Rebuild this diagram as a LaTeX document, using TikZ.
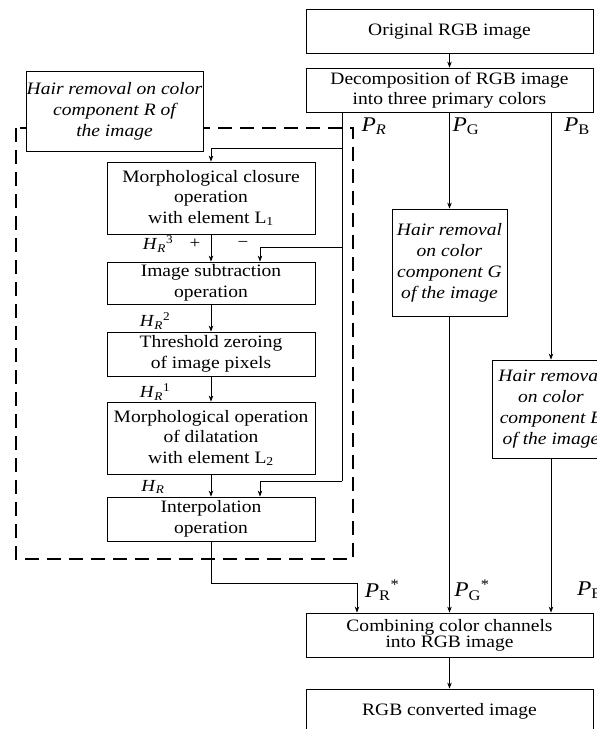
\documentclass[tikz,border=0pt]{standalone}
\usepackage{fontspec}
\setmainfont{Liberation Serif}[FakeStretch=1.12]
\usetikzlibrary{arrows.meta,calc}
\begin{document}
\begin{tikzpicture}[x=1bp,y=-1bp,
  box/.style={draw, line width=0.8bp, fill=white, align=center, inner sep=0pt,
    font=\fontsize{17.5}{20.5}\selectfont},
  ibox/.style={box, font=\fontsize{17.5}{21}\selectfont\itshape},
  arr/.style={-{Stealth[length=6bp,width=4.5bp]}, line width=0.8bp},
  ln/.style={line width=0.8bp},
  lbl/.style={inner sep=0pt, font=\fontsize{17}{20}\selectfont},
  plbl/.style={inner sep=0pt, font=\fontsize{21}{24}\selectfont},
  group/.style={draw, line width=1.5bp, dash pattern=on 14bp off 8bp}]
\useasboundingbox (0,0) rectangle (597,729);
\clip (0,0) rectangle (597,729);
\fill[white] (0,0) rectangle (597,729);

% dashed group frame
\draw[group] (16,128) rectangle (353,559);

% boxes
\node[box, minimum width=287bp, minimum height=44bp] (orig) at (449.5,31) {Original RGB image};
\node[box, minimum width=287bp, minimum height=44bp] (decomp) at (449.5,90) {Decomposition of RGB image\\into three primary colors};
\node[ibox, minimum width=177bp, minimum height=80bp] (hairR) at (114.5,111) {Hair removal on color\\component R of\\the image};
\node[box, minimum width=208bp, minimum height=72bp] (closure) at (211,198) {Morphological closure\\operation\\with element L\textsubscript{1}};
\node[box, minimum width=208bp, minimum height=42bp] (subtr) at (211,283) {Image subtraction\\operation};
\node[box, minimum width=208bp, minimum height=44bp] (thresh) at (211,354) {Threshold zeroing\\of image pixels};
\node[box, minimum width=208bp, minimum height=72bp] (dilat) at (211,438) {Morphological operation\\of dilatation\\with element L\textsubscript{2}};
\node[box, minimum width=208bp, minimum height=44bp] (interp) at (211,519) {Interpolation\\operation};
\node[ibox, minimum width=115bp, minimum height=107bp] (hairG) at (449.5,262.5) {Hair removal\\on color\\component G\\of the image};
\node[ibox, minimum width=118bp, minimum height=98bp] (hairB) at (551,409) {Hair removal\\on color\\component B\\of the image};
\node[box, minimum width=287bp, minimum height=44bp, font=\fontsize{17.5}{15}\selectfont] (combine) at (449.5,635) {Combining color channels\\into RGB image};
\node[box, minimum width=287bp, minimum height=44bp] (final) at (449.5,711) {RGB converted image};

% coordinates
\coordinate (pr) at (342,112);
\coordinate (prA) at (342,148);
\coordinate (prB) at (342,247);
\coordinate (prC) at (342,481);
\coordinate (pb) at (551,112);
\coordinate (outR) at (211,583);

% connectors
\draw[arr] (orig.south) -- (decomp.north);
\draw[ln] (pr) -- (prC);
\draw[arr] (prA) -| (closure.north);
\draw[arr] (prB) -| ([xshift=49bp]subtr.north);
\draw[arr] (prC) -| ([xshift=49bp]interp.north);
\draw[arr] (closure.south) -- (subtr.north);
\draw[arr] (subtr.south) -- (thresh.north);
\draw[arr] (thresh.south) -- (dilat.north);
\draw[arr] (dilat.south) -- (interp.north);
\draw[arr] (interp.south) -- (outR) -| ([xshift=-92.5bp]combine.north);
\draw[arr] (decomp.south) -- (hairG.north);
\draw[arr] (hairG.south) -- (combine.north);
\draw[arr] (pb) -- (hairB.north);
\draw[arr] (hairB.south) -- (hairB.south |- combine.north);
\draw[arr] (combine.south) -- (final.north);

% labels
\node[plbl] (lPR) at (374,126) {\textit{P}\textsubscript{\textit{R}}};
\node[plbl] (lPG) at (466,126) {\textit{P}\textsubscript{G}};
\node[plbl] (lPB) at (577,126) {\textit{P}\textsubscript{B}};
\node[lbl] (lH3) at (158,244) {\textit{H}\textsubscript{\textit{R}}\textsuperscript{3}};
\node[lbl] (lplus) at (195,244) {+};
\node[lbl] (lminus) at (243,244) {\textminus};
\node[lbl] (lH2) at (155,321) {\textit{H}\textsubscript{\textit{R}}\textsuperscript{2}};
\node[lbl] (lH1) at (155,392) {\textit{H}\textsubscript{\textit{R}}\textsuperscript{1}};
\node[lbl] (lH) at (153,487) {\textit{H}\textsubscript{\textit{R}}};
\node[plbl] (lPRs) at (382,590) {\textit{P}\textsubscript{R}\textsuperscript{*}};
\node[plbl] (lPGs) at (472,590) {\textit{P}\textsubscript{G}\textsuperscript{*}};
\node[plbl] (lPBs) at (590,590) {\textit{P}\textsubscript{B}};
\end{tikzpicture}
\end{document}
